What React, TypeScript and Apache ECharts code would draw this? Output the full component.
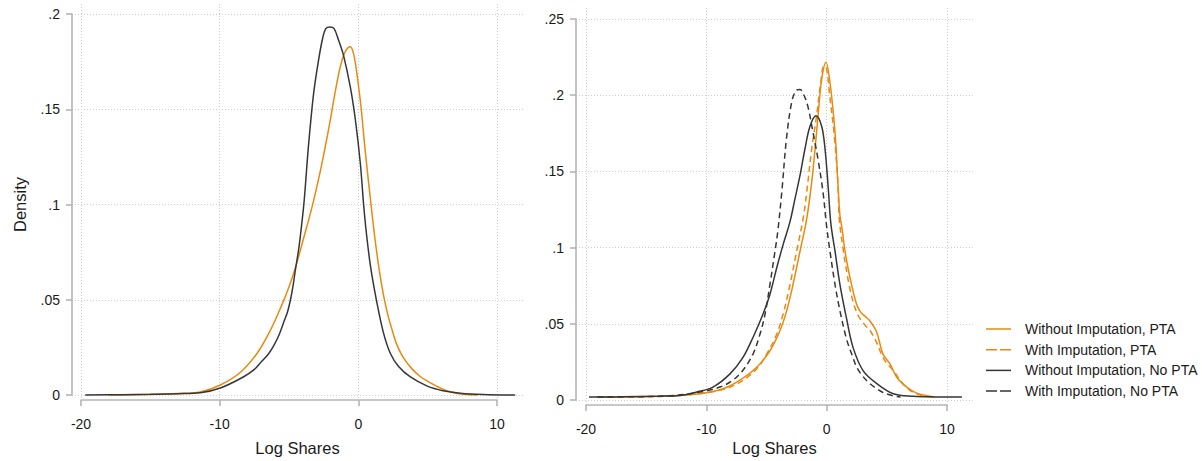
import React, { useEffect, useRef } from "react";
import * as echarts from "echarts";

// ---------- data (x = log shares, y = density) ----------
const leftPTA: number[][] = [
  [-18, 0.0], [-15, 0.0003], [-13, 0.0008], [-11.4, 0.0016], [-9.95, 0.0053], [-8.5, 0.012],
  [-7.3, 0.022], [-6.35, 0.034], [-5.6, 0.046], [-5.0, 0.057], [-4.54, 0.067], [-3.97, 0.082],
  [-3.34, 0.099], [-2.74, 0.118], [-2.38, 0.131], [-2.02, 0.145], [-1.66, 0.16], [-1.3, 0.173],
  [-1.0, 0.18], [-0.75, 0.1828], [-0.58, 0.1833], [-0.4, 0.181], [-0.22, 0.175], [0.14, 0.155],
  [0.5, 0.128], [0.87, 0.103], [1.2, 0.082], [1.5, 0.066], [1.8, 0.053], [2.1, 0.043],
  [2.4, 0.035], [2.8, 0.026], [3.3, 0.019], [3.9, 0.0135], [4.5, 0.0095], [5.0, 0.0072],
  [5.5, 0.0052], [6.0, 0.0034], [6.8, 0.0013], [7.6, 0.0004], [8.6, 0.0],
];
const leftNoPTA: number[][] = [
  [-19.7, 0.0], [-17, 0.0002], [-15, 0.0004], [-13, 0.0007], [-11.4, 0.0012], [-9.95, 0.0037],
  [-8.3, 0.0095], [-7.5, 0.0135], [-7.0, 0.0175], [-6.5, 0.0215], [-6.1, 0.026], [-5.7, 0.032],
  [-5.4, 0.038], [-5.1, 0.044], [-4.9, 0.05], [-4.7, 0.058], [-4.54, 0.066], [-4.3, 0.077],
  [-4.1, 0.089], [-3.9, 0.103], [-3.6, 0.131], [-3.24, 0.158], [-2.9, 0.175], [-2.6, 0.187],
  [-2.35, 0.1928], [-2.05, 0.1937], [-1.75, 0.1928], [-1.44, 0.187], [-1.08, 0.179], [-0.58, 0.162],
  [-0.22, 0.145], [0.14, 0.122], [0.38, 0.1], [0.58, 0.085], [0.87, 0.068], [1.3, 0.05],
  [1.8, 0.033], [2.3, 0.022], [2.9, 0.015], [3.75, 0.0095], [4.97, 0.0047], [6.1, 0.0023],
  [7.35, 0.001], [9, 0.0003], [11.3, 0.0],
];

const woImpPTA: number[][] = [
  [-19, 0.0], [-16, 0.0002], [-13, 0.0008], [-10.47, 0.0022], [-8.56, 0.0055], [-7.15, 0.0112],
  [-5.76, 0.0197], [-4.66, 0.0306], [-3.82, 0.044], [-3.27, 0.057], [-2.74, 0.0744], [-2.16, 0.0964],
  [-1.6, 0.118], [-1.19, 0.142], [-0.91, 0.164], [-0.66, 0.186], [-0.36, 0.21], [0, 0.2214],
  [0.33, 0.208], [0.75, 0.175], [1.0, 0.14], [1.16, 0.12], [1.36, 0.11], [1.58, 0.0964],
  [2.0, 0.0787], [2.55, 0.0612], [2.9, 0.056], [3.3, 0.053], [3.66, 0.0503], [4.21, 0.043],
  [4.74, 0.0284], [5.32, 0.0219], [5.88, 0.0131], [6.71, 0.0066], [7.54, 0.0026], [8.64, 0.0005], [9, 0.0],
];
const wImpPTA: number[][] = [
  [-18, 0.0], [-15, 0.0003], [-12, 0.0012], [-10, 0.0028], [-8.56, 0.005], [-7.15, 0.0098],
  [-5.76, 0.0186], [-4.93, 0.0284], [-4.1, 0.0415], [-3.57, 0.0547], [-2.99, 0.0744], [-2.44, 0.0964],
  [-1.9, 0.118], [-1.6, 0.1356], [-1.19, 0.164], [-0.78, 0.186], [-0.45, 0.207], [-0.17, 0.219],
  [0.05, 0.217], [0.3, 0.2], [0.7, 0.172], [1.0, 0.14], [1.1, 0.118], [1.45, 0.0964],
  [1.9, 0.075], [2.24, 0.0634], [2.6, 0.055], [2.97, 0.0503], [3.3, 0.047], [3.66, 0.044],
  [4.21, 0.036], [4.74, 0.026], [5.2, 0.021], [5.6, 0.0175], [6.4, 0.0088], [7.26, 0.003], [8.3, 0.0005], [8.8, 0.0],
];
const woImpNoPTA: number[][] = [
  [-19.7, 0.0], [-17, 0.0002], [-14, 0.0006], [-12.1, 0.0011], [-10.75, 0.0033], [-9.39, 0.0066],
  [-7.98, 0.0153], [-6.9, 0.0262], [-6.07, 0.0394], [-5.24, 0.0547], [-4.66, 0.0678], [-4.1, 0.0853],
  [-3.57, 0.1006], [-2.99, 0.116], [-2.58, 0.131], [-2.16, 0.1465], [-1.75, 0.164], [-1.33, 0.179],
  [-0.83, 0.186], [-0.36, 0.179], [-0.08, 0.164], [0.19, 0.138], [0.4, 0.115], [0.75, 0.0964],
  [1.16, 0.0744], [1.72, 0.0515], [2.24, 0.033], [3.08, 0.0175], [4.21, 0.009], [5.6, 0.0022],
  [7.26, 0.0005], [9, 0.0001], [11.3, 0.0],
];
const wImpNoPTA: number[][] = [
  [-19, 0.0], [-16, 0.0002], [-13, 0.0008], [-10.47, 0.0033], [-8.81, 0.0066], [-7.73, 0.0112],
  [-6.9, 0.0177], [-6.07, 0.0284], [-5.49, 0.0415], [-5.07, 0.0547], [-4.66, 0.0744], [-4.24, 0.0964],
  [-4.0, 0.11], [-3.68, 0.135], [-3.27, 0.172], [-2.85, 0.195], [-2.5, 0.2025], [-2.16, 0.2034],
  [-1.8, 0.199], [-1.5, 0.192], [-1.08, 0.175], [-0.66, 0.157], [-0.25, 0.1356], [0.05, 0.113],
  [0.33, 0.0964], [0.75, 0.0744], [1.16, 0.057], [1.72, 0.038], [2.24, 0.0262], [2.55, 0.0197],
  [3.08, 0.0135], [3.66, 0.0088], [4.21, 0.0055], [4.74, 0.003], [5.5, 0.001], [6.2, 0.0],
];

const legendNames = [
  "Without Imputation, PTA",
  "With Imputation, PTA",
  "Without Imputation, No PTA",
  "With Imputation, No PTA",
];
const xTicks = { min: -20, max: 10, interval: 10 };
const yTicksLeft = { min: 0, max: 0.2, interval: 0.05 };
const yTicksRight = { min: 0, max: 0.25, interval: 0.05 };

// ---------- styles ----------
const ORANGE = "#e9890f";
const DARK = "#363636";
const FONT = "Liberation Sans, Arial, sans-serif";
const AXIS_COLOR = "#b5b5b5";
const GRID_COLOR = "#cccccc";
const ICON_SOLID = "path://M0,0h25v1.5h-25z";
const ICON_DASH = "path://M0,0h11v1.5h-11z M14,0h11v1.5h-11z";

const fmtY = (v: number) => {
  if (Math.abs(v) < 1e-9) return "0";
  return String(Number(v.toFixed(4))).replace(/^0\./, ".");
};

const hiddenAxis = (gridIndex: number) => ({ gridIndex, show: false, type: "value" });

export default function App() {
  const ref = useRef<HTMLDivElement>(null);
  useEffect(() => {
    if (!ref.current) return;
    const chart = echarts.init(ref.current, undefined, { renderer: "svg" });

    const axisLine = { show: true, lineStyle: { color: AXIS_COLOR, width: 1.6 } };
    const axisTick = { show: true, length: 6, lineStyle: { color: AXIS_COLOR, width: 1.6 } };
    const labelStyle = { color: "#1a1a1a", fontSize: 14, fontFamily: FONT };
    const split = { show: true, lineStyle: { color: GRID_COLOR, type: [1, 2], width: 1 } };

    const dataX = (gridIndex: number, min: number, max: number, gap: number) => ({
      gridIndex, type: "value", min, max,
      axisLine: { show: false }, axisTick: { show: false }, axisLabel: { show: false }, splitLine: { show: false },
      name: "Log Shares", nameLocation: "middle", nameGap: gap,
      nameTextStyle: { color: "#1a1a1a", fontSize: 16.5, fontFamily: FONT },
    });
    const dataY = (gridIndex: number, min: number, max: number) => ({
      gridIndex, type: "value", min, max,
      axisLine: { show: false }, axisTick: { show: false }, axisLabel: { show: false }, splitLine: { show: false },
    });
    const dispX = (gridIndex: number) => ({
      gridIndex, type: "value", ...xTicks, offset: 7, position: "bottom",
      axisLine, axisTick, axisLabel: { ...labelStyle, margin: 10 }, splitLine: split,
    });
    const dispY = (gridIndex: number, t: any, name?: string) => ({
      gridIndex, type: "value", ...t, offset: 2, position: "left",
      axisLine, axisTick, axisLabel: { ...labelStyle, margin: 10, formatter: fmtY }, splitLine: split,
      ...(name
        ? { name, nameLocation: "middle", nameGap: 42, nameTextStyle: { color: "#1a1a1a", fontSize: 16.5, fontFamily: FONT } }
        : {}),
    });

    const line = (name: string, data: number[][], color: string, dashed: boolean, axis: number) => ({
      type: "line", name, data, xAxisIndex: axis, yAxisIndex: axis,
      showSymbol: false, symbol: "none", smooth: 0.35,
      lineStyle: { color, width: 1.5, type: dashed ? [6, 4] : "solid" },
      itemStyle: { color },
    });

    chart.setOption({
      animation: false,
      backgroundColor: "#ffffff",
      grid: [
        { left: 72, top: 4, width: 451, height: 403 },
        { left: 81, top: 4, width: 416, height: 396 },
        { left: 72, top: 14, width: 451, height: 381 },
        { left: 576, top: 8, width: 397, height: 404 },
        { left: 586, top: 8, width: 361, height: 397 },
        { left: 576, top: 19, width: 397, height: 381 },
      ],
      xAxis: [
        dataX(0, -20.65, 11.87, 32),
        dispX(1),
        hiddenAxis(2),
        dataX(3, -20.78, 12.22, 30),
        dispX(4),
        hiddenAxis(5),
      ],
      yAxis: [
        dataY(0, -0.0063, 0.2058),
        hiddenAxis(1),
        dispY(2, yTicksLeft, "Density"),
        dataY(3, -0.0079, 0.2572),
        hiddenAxis(4),
        dispY(5, yTicksRight),
      ],
      legend: {
        data: [
          { name: legendNames[0], icon: ICON_SOLID },
          { name: legendNames[1], icon: ICON_DASH },
          { name: legendNames[2], icon: ICON_SOLID },
          { name: legendNames[3], icon: ICON_DASH },
        ],
        orient: "vertical",
        left: 986,
        top: 322,
        padding: 0,
        itemWidth: 25,
        itemHeight: 14,
        itemGap: 6.7,
        selectedMode: false,
        itemStyle: { borderWidth: 0 },
        textStyle: { color: "#1a1a1a", fontSize: 14, fontFamily: FONT, padding: [0, 0, 0, 9] },
      },
      series: [
        line("Full sample, PTA", leftPTA, ORANGE, false, 0),
        line("Full sample, No PTA", leftNoPTA, DARK, false, 0),
        line(legendNames[0], woImpPTA, ORANGE, false, 3),
        line(legendNames[1], wImpPTA, ORANGE, true, 3),
        line(legendNames[2], woImpNoPTA, DARK, false, 3),
        line(legendNames[3], wImpNoPTA, DARK, true, 3),
      ],
    });
    return () => chart.dispose();
  }, []);
  return (
    <div
      ref={ref}
      style={{ position: "fixed", left: 0, top: 0, width: 1202, height: 461, background: "#fff" }}
    />
  );
}
